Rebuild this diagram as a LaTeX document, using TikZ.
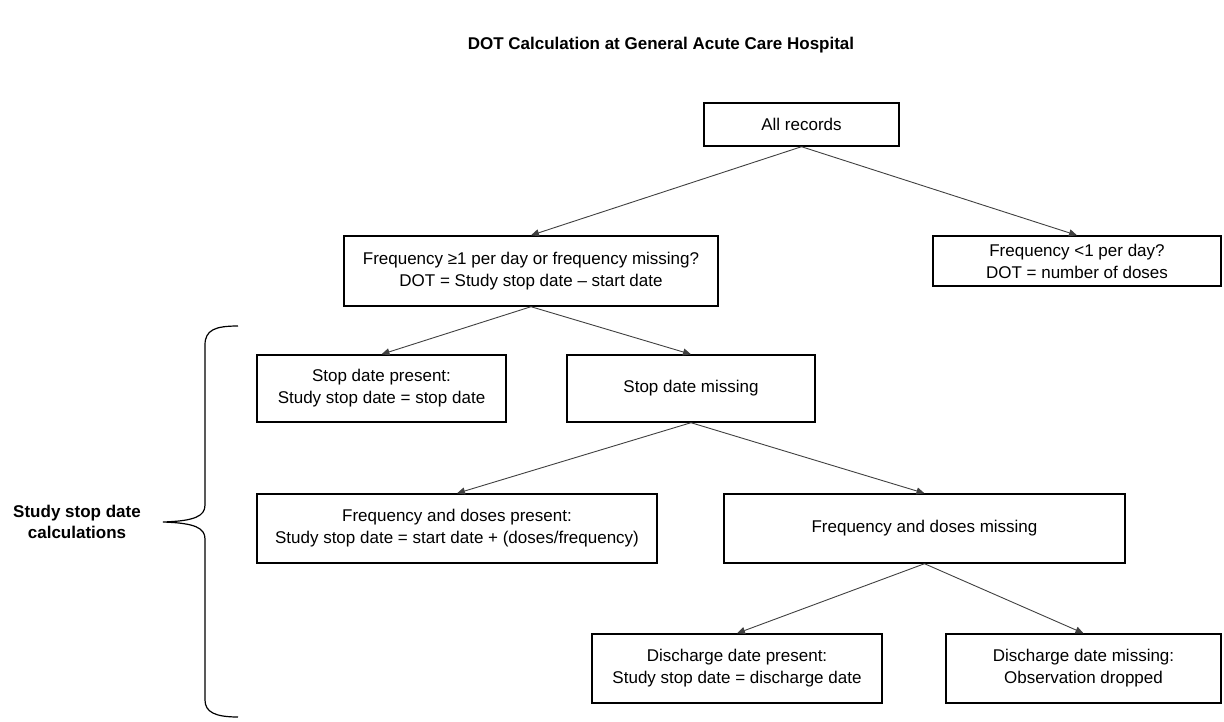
\documentclass[tikz,border=0pt]{standalone}
\usepackage{fontspec}
\setmainfont{Liberation Sans}
\usepackage{tikz}
\usetikzlibrary{arrows.meta}

\begin{document}
\begin{tikzpicture}[x=1pt, y=-1pt,
    box/.style={draw=black, line width=1.4pt, align=center, inner sep=2pt,
        font=\fontsize{17}{22}\selectfont},
    conn/.style={draw=black!75, line width=0.9pt, -{Triangle[length=8pt, width=7pt]}}]
    \useasboundingbox (0,0) rectangle (1224,721);

    % Title
    \node[font=\bfseries\fontsize{17}{22}\selectfont] (title) at (661,45)
        {DOT Calculation at General Acute Care Hospital};

    % Top level
    \node[box, minimum width=195pt, minimum height=43pt] (all) at (801.5,124.5) {All records};
    \node[box, minimum width=374pt, minimum height=70pt] (freqhi) at (531,271)
        {Frequency ≥1 per day or frequency missing?\\DOT = Study stop date – start date};
    \node[box, minimum width=288pt, minimum height=50pt] (freqlo) at (1077,261)
        {Frequency <1 per day?\\DOT = number of doses};

    % Stop date
    \node[box, minimum width=249pt, minimum height=67pt] (stopyes) at (381.5,388.5)
        {Stop date present:\\Study stop date = stop date};
    \node[box, minimum width=248pt, minimum height=67pt] (stopno) at (691,388.5)
        {Stop date missing};

    % Frequency and doses
    \node[box, minimum width=400pt, minimum height=69pt] (dosesyes) at (457,528.5)
        {Frequency and doses present:\\Study stop date = start date + (doses/frequency)};
    \node[box, minimum width=401pt, minimum height=69pt] (dosesno) at (924.5,528.5)
        {Frequency and doses missing};

    % Discharge date
    \node[box, minimum width=290pt, minimum height=69pt] (dischyes) at (737,668.5)
        {Discharge date present:\\Study stop date = discharge date};
    \node[box, minimum width=275pt, minimum height=69pt] (dischno) at (1083.5,668.5)
        {Discharge date missing:\\Observation dropped};

    % Connectors
    \draw[conn] (all.south) -- (freqhi.north);
    \draw[conn] (all.south) -- (freqlo.north);
    \draw[conn] (freqhi.south) -- (stopyes.north);
    \draw[conn] (freqhi.south) -- (stopno.north);
    \draw[conn] (stopno.south) -- (dosesyes.north);
    \draw[conn] (stopno.south) -- (dosesno.north);
    \draw[conn] (dosesno.south) -- (dischyes.north);
    \draw[conn] (dosesno.south) -- (dischno.north);

    % Brace and its label
    \draw[line width=1.2pt] (238,326) .. controls (215,326) and (205,330) .. (205,345)
        -- (205,505) .. controls (205,516) and (195,521) .. (163,522)
        .. controls (195,523) and (205,528) .. (205,539)
        -- (205,700) .. controls (205,712) and (215,717) .. (238,717);
    \node[align=center, font=\bfseries\fontsize{17}{21}\selectfont] (calclbl) at (77,522)
        {Study stop date\\calculations};
\end{tikzpicture}
\end{document}
